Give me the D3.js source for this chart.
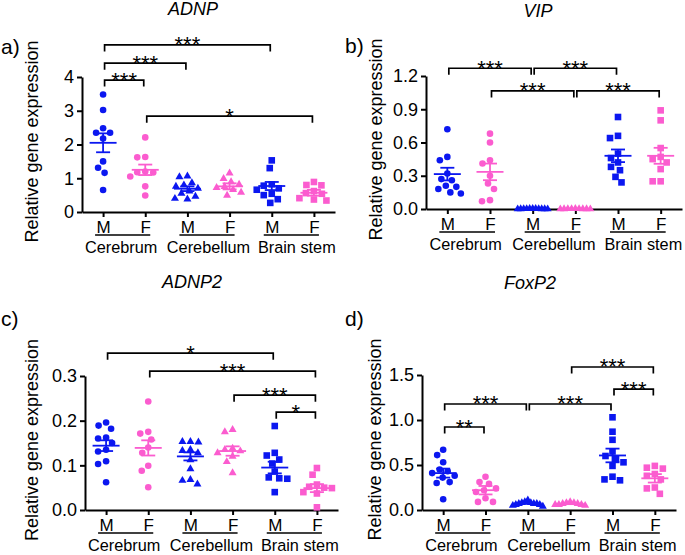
<!DOCTYPE html>
<html><head><meta charset="utf-8">
<script src="https://cdn.jsdelivr.net/npm/d3@7"></script>
<style>
body{margin:0;background:#fff}
text{font-family:"Liberation Sans",Arial,Helvetica,sans-serif;fill:#000}
</style>
</head><body>
<svg id="chart" width="685" height="555"></svg>
<script>
// ---------- shared categories ----------
const groups = ["Cerebrum", "Cerebellum", "Brain stem"];
const sexes = ["M", "F"];
const markerShapes = ["circle", "circle", "triangle", "triangle", "square", "square"];
const colorBySex = ["#0b17f0", "#fb5ccf"];

// ---------- a) ADNP ----------
const adnpValues = [
  [3.48, 3.02, 2.48, 2.35, 2.35, 2.18, 1.50, 1.31, 1.16, 0.65],
  [2.21, 1.63, 1.62, 1.20, 1.18, 1.17, 1.05, 0.76, 0.49],
  [1.06, 1.04, 0.86, 0.80, 0.76, 0.70, 0.62, 0.55, 0.46, 0.40, 0.38],
  [1.15, 0.99, 0.89, 0.82, 0.75, 0.72, 0.66, 0.58, 0.49],
  [1.53, 1.30, 0.82, 0.78, 0.70, 0.66, 0.54, 0.50, 0.38, 0.27],
  [0.89, 0.80, 0.79, 0.62, 0.56, 0.54, 0.41, 0.37, 0.34]
];
const adnpMeans = [2.05, 1.25, 0.69, 0.76, 0.77, 0.57];
const adnpSems = [0.28, 0.155, 0.07, 0.09, 0.12, 0.085];
const adnpTicks = [0, 1, 2, 3, 4];
const adnpBrackets = [[0, 4, "***", 4.95], [0, 2, "***", 4.41], [0, 1, "***", 3.91], [1, 5, "*", 2.84]];

// ---------- b) VIP ----------
const vipValues = [
  [0.72, 0.47, 0.44, 0.32, 0.27, 0.26, 0.21, 0.20, 0.18, 0.15, 0.14],
  [0.68, 0.60, 0.44, 0.41, 0.30, 0.23, 0.18, 0.08, 0.07],
  [0.004, 0.003, 0.003, 0.002, 0.002, 0.002, 0.001, 0.001, 0.001, 0.000, 0.000],
  [0.003, 0.002, 0.002, 0.002, 0.001, 0.001, 0.001, 0.000, 0.000],
  [0.83, 0.66, 0.64, 0.50, 0.46, 0.42, 0.38, 0.35, 0.29, 0.24],
  [0.89, 0.80, 0.55, 0.47, 0.45, 0.42, 0.36, 0.25, 0.25]
];
const vipMeans = [0.315, 0.335, 0.002, 0.0015, 0.48, 0.48];
const vipSems = [0.057, 0.075, 0.001, 0.001, 0.057, 0.072];
const vipTicks = [0, 0.3, 0.6, 0.9, 1.2];
const vipBrackets = [[0, 2, "***", 1.27], [2, 4, "***", 1.27], [1, 3, "***", 1.065], [3, 5, "***", 1.065]];

// ---------- c) ADNP2 ----------
const adnp2Values = [
  [0.196, 0.189, 0.182, 0.162, 0.160, 0.150, 0.135, 0.131, 0.109, 0.103, 0.062],
  [0.243, 0.175, 0.171, 0.158, 0.140, 0.128, 0.099, 0.088, 0.051],
  [0.153, 0.153, 0.152, 0.135, 0.133, 0.128, 0.112, 0.092, 0.068, 0.066, 0.058],
  [0.180, 0.175, 0.138, 0.135, 0.132, 0.128, 0.120, 0.108, 0.083],
  [0.188, 0.128, 0.122, 0.113, 0.104, 0.086, 0.073, 0.071, 0.070, 0.040],
  [0.094, 0.079, 0.057, 0.052, 0.050, 0.049, 0.040, 0.037, 0.006]
];
const adnp2Means = [0.144, 0.139, 0.120, 0.132, 0.095, 0.049];
const adnp2Sems = [0.012, 0.017, 0.009, 0.0105, 0.013, 0.009];
const adnp2Ticks = [0, 0.1, 0.2, 0.3];
const adnp2Brackets = [[0, 4, "*", 0.351], [1, 5, "***", 0.311], [3, 5, "***", 0.257], [4, 5, "*", 0.219]];

// ---------- d) FoxP2 ----------
const foxp2Values = [
  [0.67, 0.61, 0.53, 0.45, 0.43, 0.41, 0.38, 0.36, 0.31, 0.30, 0.12],
  [0.37, 0.31, 0.29, 0.24, 0.22, 0.20, 0.13, 0.09, 0.09],
  [0.11, 0.09, 0.08, 0.08, 0.07, 0.07, 0.07, 0.06, 0.06, 0.05, 0.04],
  [0.09, 0.08, 0.08, 0.07, 0.07, 0.06, 0.06, 0.06, 0.05],
  [1.03, 0.87, 0.78, 0.65, 0.60, 0.57, 0.53, 0.49, 0.37, 0.34, 0.33],
  [0.49, 0.47, 0.46, 0.40, 0.38, 0.34, 0.25, 0.24, 0.18]
];
const foxp2Means = [0.41, 0.22, 0.075, 0.07, 0.606, 0.352];
const foxp2Sems = [0.05, 0.047, 0.006, 0.005, 0.076, 0.047];
const foxp2Ticks = [0, 0.5, 1.0, 1.5];
const foxp2Brackets = [[0, 1, "**", 0.922], [0, 2, "***", 1.178], [2, 4, "***", 1.178], [3, 5, "***", 1.589], [4, 5, "***", 1.344]];

// ---------- layout ----------
const panels = [
  {letter: "a)", title: "ADNP", values: adnpValues, means: adnpMeans, sems: adnpSems, ticks: adnpTicks, brackets: adnpBrackets, fmt: d3.format("d"),
   ax: 82, xEnd: 335, yB: 212, yT: 77, titleX: 193, titleY: 15, letterX: 1, letterY: 54, labelX: 38},
  {letter: "b)", title: "VIP", values: vipValues, means: vipMeans, sems: vipSems, ticks: vipTicks, brackets: vipBrackets, fmt: d3.format(".1f"),
   ax: 426, xEnd: 682, yB: 209, yT: 76, titleX: 538, titleY: 17, letterX: 345, letterY: 53, labelX: 382},
  {letter: "c)", title: "ADNP2", values: adnp2Values, means: adnp2Means, sems: adnp2Sems, ticks: adnp2Ticks, brackets: adnp2Brackets, fmt: d3.format(".1f"),
   ax: 85, xEnd: 338, yB: 510, yT: 376, titleX: 192, titleY: 288, letterX: 1, letterY: 326, labelX: 38},
  {letter: "d)", title: "FoxP2", values: foxp2Values, means: foxp2Means, sems: foxp2Sems, ticks: foxp2Ticks, brackets: foxp2Brackets, fmt: d3.format(".1f"),
   ax: 422, xEnd: 676, yB: 510, yT: 375, titleX: 530, titleY: 289, letterX: 345, letterY: 326, labelX: 381}
];
const groupLabelShift = [-3, 0, 4];

const svg = d3.select("#chart");

function swarm(vals, y, D, maxW) {
  const order = d3.range(vals.length).sort((a, b) => vals[b] - vals[a]);
  const placed = [];
  const off = new Array(vals.length).fill(0);
  order.forEach(i => {
    const py = y(vals[i]);
    let o = 0;
    for (let k = 0; k < 1000; k++) {
      const c = (k % 2 === 0 ? 1 : -1) * Math.ceil(k / 2) * 0.5;
      if (placed.every(p => (p.o - c) ** 2 + (p.y - py) ** 2 >= D * D)) { o = c; break; }
    }
    off[i] = o;
    placed.push({o: o, y: py});
  });
  const m = d3.max(off, Math.abs);
  if (m > maxW) { const s = maxW / m; for (let i = 0; i < off.length; i++) off[i] *= s; }
  return off;
}

function marker(g, shape, cx, cy, color) {
  if (shape === "circle") {
    g.append("circle").attr("cx", cx).attr("cy", cy).attr("r", 3.3).attr("fill", color);
  } else if (shape === "square") {
    g.append("rect").attr("x", cx - 3.3).attr("y", cy - 3.3).attr("width", 6.6).attr("height", 6.6).attr("fill", color);
  } else {
    const s = 8, h = s * Math.sqrt(3) / 2;
    g.append("path").attr("d", `M${cx},${cy - h * 2 / 3}L${cx + s / 2},${cy + h / 3}L${cx - s / 2},${cy + h / 3}Z`).attr("fill", color);
  }
}

panels.forEach(P => {
  const g = svg.append("g");
  const yMax = P.ticks[P.ticks.length - 1];
  const y = d3.scaleLinear().domain([0, yMax]).range([P.yB, P.yT]);
  const x = d3.scalePoint().domain(d3.range(6)).range([P.ax, P.xEnd]).padding(0.5);

  // y axis
  const ya = g.append("g").attr("transform", `translate(${P.ax},0)`)
    .call(d3.axisLeft(y).tickValues(P.ticks).tickFormat(P.fmt).tickSize(5).tickPadding(3).tickSizeOuter(0));
  ya.selectAll("path,line").attr("stroke", "#000").attr("stroke-width", 2);
  ya.selectAll("text").attr("font-size", 18).attr("font-family", '"Liberation Sans",Arial,sans-serif').attr("fill", "#000");

  // x axis
  const xa = g.append("g").attr("transform", `translate(0,${P.yB})`)
    .call(d3.axisBottom(x).tickFormat(i => sexes[i % 2]).tickSize(5).tickPadding(3.5).tickSizeOuter(0));
  xa.selectAll("path,line").attr("stroke", "#000").attr("stroke-width", 2);
  xa.selectAll("text").attr("font-size", 17).attr("font-family", '"Liberation Sans",Arial,sans-serif').attr("fill", "#000");

  // group underlines and labels
  groups.forEach((name, gi) => {
    const xm = x(gi * 2), xf = x(gi * 2 + 1);
    g.append("line").attr("x1", xm - 8).attr("x2", xf + 5).attr("y1", P.yB + 23).attr("y2", P.yB + 23)
      .attr("stroke", "#000").attr("stroke-width", 1.6);
    g.append("text").attr("x", (xm + xf) / 2 + groupLabelShift[gi]).attr("y", P.yB + 41).attr("text-anchor", "middle")
      .attr("font-size", 16.3).text(name);
  });

  // points
  P.values.forEach((vals, ci) => {
    const color = colorBySex[ci % 2];
    const off = swarm(vals, y, 8, 15);
    vals.forEach((v, i) => marker(g, markerShapes[ci], x(ci) + off[i], y(v), color));
    // mean and SEM
    const cx = x(ci), m = P.means[ci], s = P.sems[ci];
    g.append("line").attr("x1", cx - 13.5).attr("x2", cx + 13.5).attr("y1", y(m)).attr("y2", y(m))
      .attr("stroke", color).attr("stroke-width", 1.8);
    g.append("line").attr("x1", cx).attr("x2", cx).attr("y1", y(m - s)).attr("y2", y(m + s))
      .attr("stroke", color).attr("stroke-width", 1.8);
    [m - s, m + s].forEach(e => g.append("line").attr("x1", cx - 7).attr("x2", cx + 7).attr("y1", y(e)).attr("y2", y(e))
      .attr("stroke", color).attr("stroke-width", 1.8));
  });

  // significance brackets
  P.brackets.forEach(([a, b, lab, v]) => {
    const x1 = x(a) + 1.5, x2 = x(b) - 1.5, by = y(v);
    g.append("path").attr("d", `M${x1},${by + 6.5}V${by}H${x2}V${by + 6.5}`)
      .attr("fill", "none").attr("stroke", "#000").attr("stroke-width", 1.7);
    g.append("text").attr("x", (x1 + x2) / 2).attr("y", by + 7.5).attr("text-anchor", "middle")
      .attr("font-size", 22).text(lab);
  });

  // titles, letters, y labels
  g.append("text").attr("x", P.titleX).attr("y", P.titleY).attr("text-anchor", "middle")
    .attr("font-size", 18).attr("font-style", "italic").text(P.title);
  g.append("text").attr("x", P.letterX).attr("y", P.letterY).attr("font-size", 21).text(P.letter);
  g.append("text").attr("transform", `translate(${P.labelX},${(P.yB + P.yT) / 2 - 3}) rotate(-90)`)
    .attr("text-anchor", "middle").attr("font-size", 18).text("Relative gene expression");
});
</script>
</body></html>
